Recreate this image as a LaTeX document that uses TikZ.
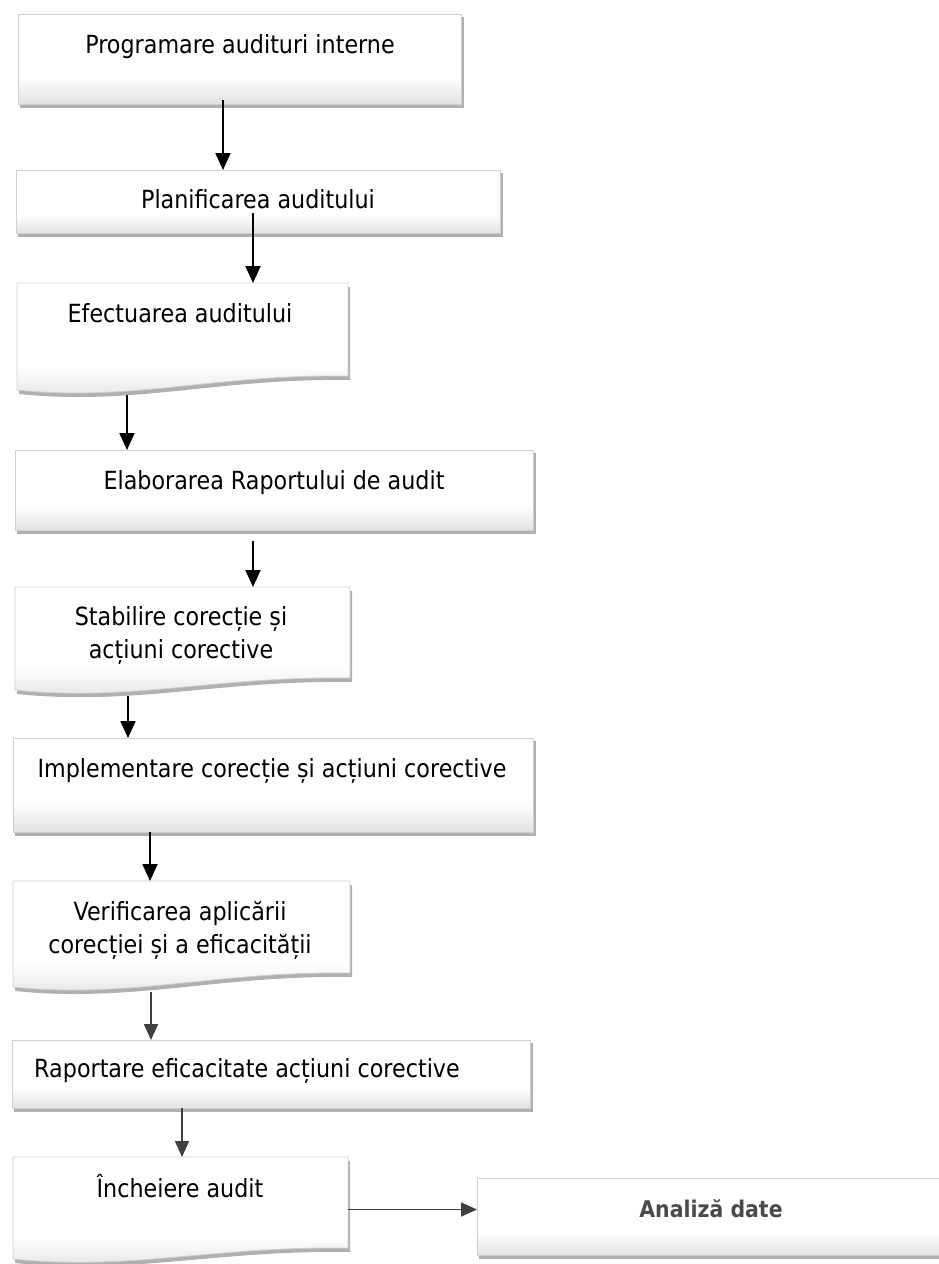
\documentclass[tikz,border=0pt]{standalone}
\usepackage{fontspec}
\setmainfont{DejaVu Sans}[FakeStretch=0.89]
\usetikzlibrary{arrows.meta,calc}
\definecolor{shadowc}{HTML}{B0B0B0}
\definecolor{bordc}{HTML}{D0D0D0}
\definecolor{shadec}{HTML}{E2E2E2}
\definecolor{arrdark}{HTML}{404040}
\definecolor{txtgray}{HTML}{4A4A4A}
\pgfdeclareverticalshading{boxgrad}{100bp}{color(0bp)=(shadec); color(25bp)=(shadec); color(40bp)=(white); color(75bp)=(white); color(100bp)=(white)}
\tikzset{
  boxshade/.style={shading=boxgrad, draw=bordc, line width=0.8pt},
  boxshadow/.style={fill=shadowc},
  anchorbox/.style={inner sep=0pt, outer sep=0pt, draw=none, anchor=north west},
  txt/.style={font=\fontsize{25}{33}\selectfont, inner sep=0pt, align=center, text=black, anchor=base},
  arr/.style={line width=2pt, draw=black, -{Triangle[length=17pt,width=15pt]}},
  arrg/.style={line width=1.8pt, draw=arrdark, -{Triangle[length=16pt,width=14pt]}},
}
% name L T R B
\newcommand\flowrect[5]{%
  \fill[boxshadow] (#2+2,#3+3) rectangle (#4+3,#5+4);
  \shade[boxshade] (#2,#3) rectangle (#4,#5);
  \node[anchorbox, minimum width={#4-#2}, minimum height={#5-#3}] (#1) at (#2,#3) {};
}
% name L T R B D
\newcommand\flowdoc[6]{%
  \fill[boxshadow, shift={(2,4)}] (#2,#3) -- (#4,#3) -- (#4,#5)
    .. controls ({#4-0.4*(#4-#2)},#5-2) and ({#2+0.35*(#4-#2)},#5+#6+9) .. (#2,#5+#6-3) -- cycle;
  \shade[boxshade] (#2,#3) -- (#4,#3) -- (#4,#5)
    .. controls ({#4-0.4*(#4-#2)},#5-2) and ({#2+0.35*(#4-#2)},#5+#6+9) .. (#2,#5+#6-3) -- cycle;
  \node[anchorbox, minimum width={#4-#2}, minimum height={#5+#6-#3}] (#1) at (#2,#3) {};
}
\begin{document}
\begin{tikzpicture}[x=1pt,y=-1pt]
\useasboundingbox (0,0) rectangle (939,1264);
\fill[white] (0,0) rectangle (939,1264);

\flowrect{b1}{18}{14}{461}{104}
\node[txt] (t1) at (240,53) {Programare audituri interne};

\flowrect{b2}{16}{170}{500}{233}
\node[txt] (t2) at (258,208) {Planificarea auditului};

\flowdoc{b3}{17}{283}{348}{376}{17}
\node[txt] (t3) at (180,322) {Efectuarea auditului};

\flowrect{b4}{15}{450}{533}{530}
\node[txt] (t4) at (274,489) {Elaborarea Raportului de audit};

\flowdoc{b5}{15}{587}{350}{678}{15}
\node[txt] (t5) at (181,658) {Stabilire corecție și\\acțiuni corective};

\flowrect{b6}{13}{738}{533}{832}
\node[txt] (t6) at (272,777) {Implementare corecție și acțiuni corective};

\flowdoc{b7}{13}{881}{350}{973}{17}
\node[txt] (t7) at (180,953) {Verificarea aplicării\\corecției și a eficacității};

\flowrect{b8}{12}{1040}{530}{1108}
\node[txt] (t8) at (247,1077) {Raportare eficacitate acțiuni corective};

\flowdoc{b9}{13}{1157}{348}{1248}{14}
\node[txt] (t9) at (180,1197) {Încheiere audit};

\flowrect{b10}{477}{1178}{960}{1255}
\node[txt, font=\fontsize{23}{33}\selectfont\bfseries, text=txtgray] (t10) at (711,1217) {Analiză date};

\draw[arr] ([shift={(205,-4)}]b1.south west) -- ([shift={(205,0)}]b1.south west |- b2.north);
\draw[arr] ([shift={(237,-20)}]b2.south west) -- ([shift={(237,0)}]b2.south west |- b3.north);
\draw[arr] ([shift={(110,2)}]b3.south west) -- ([shift={(110,0)}]b3.south west |- b4.north);
\draw[arr] ([shift={(238,11)}]b4.south west) -- ([shift={(238,0)}]b4.south west |- b5.north);
\draw[arr] ([shift={(113,3)}]b5.south west) -- ([shift={(113,0)}]b5.south west |- b6.north);
\draw[arr] ([shift={(137,0)}]b6.south west) -- ([shift={(137,0)}]b6.south west |- b7.north);
\draw[arrg] ([shift={(138,2)}]b7.south west) -- ([shift={(138,0)}]b7.south west |- b8.north);
\draw[arrg] ([shift={(170,0)}]b8.south west) -- ([shift={(170,0)}]b8.south west |- b9.north);
\draw[arrg] (b9.east) -- (b10.west |- b9.east);
\end{tikzpicture}
\end{document}
